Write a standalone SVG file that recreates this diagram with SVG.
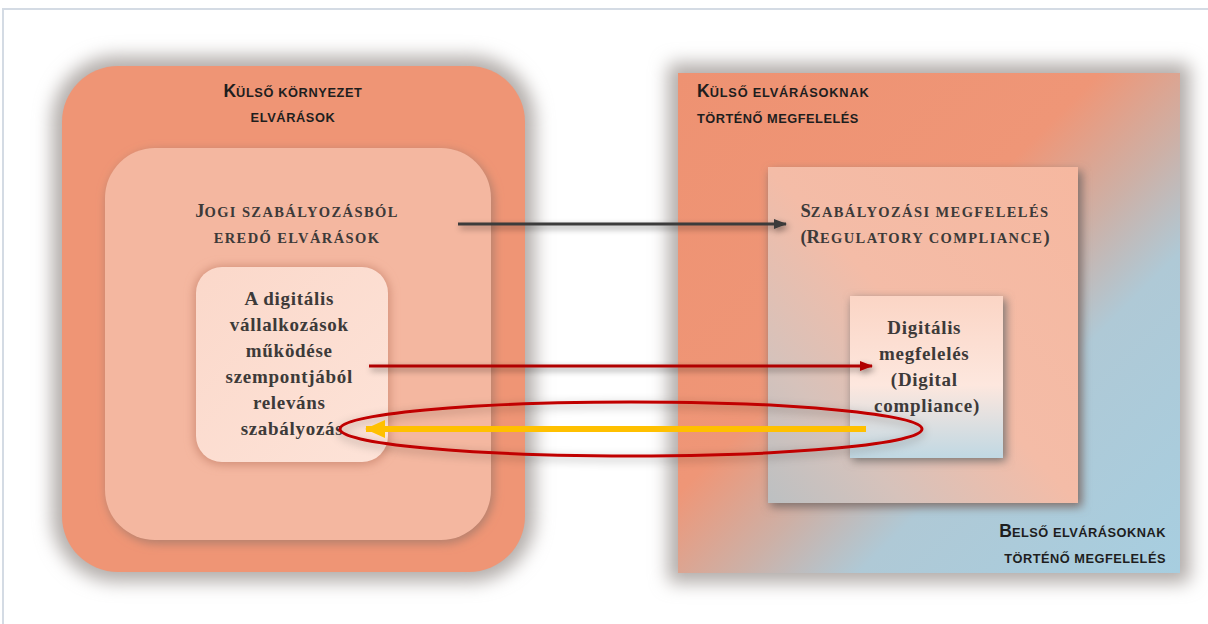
<svg xmlns="http://www.w3.org/2000/svg" width="1208" height="624" viewBox="0 0 1208 624">
<defs>
<style>
.sans{font-family:"Liberation Sans",Arial,sans-serif;fill:#1e1e1e;font-weight:bold}
.serif{font-family:"Liberation Serif","Times New Roman",serif;font-weight:bold;fill:#3d3a39}
.sc{font-size:14.5px;letter-spacing:1.4px}
.big{font-size:18.5px}
.body{font-size:19px;letter-spacing:0.7px}
.ssc{font-size:12.8px;letter-spacing:0.6px}
.sbig{font-size:17.5px}
</style>
<filter id="halo" x="-20%" y="-20%" width="140%" height="140%"><feGaussianBlur stdDeviation="9"/></filter>
<filter id="soft" x="-20%" y="-20%" width="140%" height="140%"><feGaussianBlur stdDeviation="5"/></filter>
<filter id="ash" filterUnits="userSpaceOnUse" x="0" y="0" width="1208" height="624"><feDropShadow dx="2" dy="3" stdDeviation="3" flood-color="#000" flood-opacity="0.45"/></filter>
<filter id="esh" filterUnits="userSpaceOnUse" x="0" y="0" width="1208" height="624"><feDropShadow dx="0" dy="3" stdDeviation="5" flood-color="#000" flood-opacity="0.35"/></filter>
<linearGradient id="gOuterR" x1="0" y1="0" x2="1" y2="1">
<stop offset="0" stop-color="#ee9272"/>
<stop offset="0.42" stop-color="#ef9677"/>
<stop offset="0.56" stop-color="#cdb0a6"/>
<stop offset="0.68" stop-color="#afc9d6"/>
<stop offset="1" stop-color="#a7cee0"/>
</linearGradient>
<linearGradient id="gMid" x1="1" y1="0" x2="0" y2="1">
<stop offset="0" stop-color="#f6b8a0"/>
<stop offset="0.5" stop-color="#f4bca7"/>
<stop offset="0.78" stop-color="#d6c2bb"/>
<stop offset="1" stop-color="#bcc0c2"/>
</linearGradient>
<linearGradient id="gIn" x1="0" y1="0" x2="0" y2="1">
<stop offset="0" stop-color="#fbd5c5"/>
<stop offset="0.55" stop-color="#fde7de"/>
<stop offset="1" stop-color="#c0d8e3"/>
</linearGradient>
<linearGradient id="gInner" x1="0" y1="0" x2="1" y2="1">
<stop offset="0" stop-color="#fbd8ca"/>
<stop offset="1" stop-color="#fde3d8"/>
</linearGradient>
<marker id="mDark" markerUnits="userSpaceOnUse" markerWidth="13" markerHeight="10" refX="12" refY="5" orient="auto"><path d="M0,0 L13,5 L0,10 z" fill="#3a3a3a"/></marker>
<marker id="mRed" markerUnits="userSpaceOnUse" markerWidth="13" markerHeight="10" refX="12" refY="5" orient="auto"><path d="M0,0 L13,5 L0,10 z" fill="#b00000"/></marker>
<marker id="mYel" markerUnits="userSpaceOnUse" markerWidth="20" markerHeight="18" refX="19" refY="9" orient="auto"><path d="M0,0 L20,9 L0,18 z" fill="#ffc000"/></marker>
</defs>

<rect x="3" y="9" width="1215" height="625" fill="none" stroke="#d4dbe4" stroke-width="2"/>

<g id="node-kulso-kornyezet">
<rect x="52" y="56" width="483" height="526" rx="65" fill="#b3adaa" filter="url(#halo)"/>
<rect x="62" y="66" width="463" height="506" rx="56" fill="#ef9575"/>
<text class="sans" text-anchor="middle"><tspan x="293" y="97"><tspan class="sbig">K</tspan><tspan class="ssc">ÜLSŐ KÖRNYEZET</tspan></tspan><tspan class="ssc" x="293" y="122">ELVÁRÁSOK</tspan></text>
</g>

<g id="node-jogi">
<rect x="106" y="150" width="388" height="394" rx="52" fill="#b5806d" filter="url(#soft)"/>
<rect x="105" y="148" width="386" height="392" rx="50" fill="#f4b7a0"/>
<text class="serif" text-anchor="middle"><tspan x="297" y="217"><tspan class="big">J</tspan><tspan class="sc">OGI SZABÁLYOZÁSBÓL</tspan></tspan><tspan class="sc" x="297" y="243">EREDŐ ELVÁRÁSOK</tspan></text>
</g>

<g id="node-digitalis-szabalyozas">
<rect x="194" y="266" width="196" height="199" rx="28" fill="#d18f78" filter="url(#soft)"/>
<rect x="196" y="267" width="192" height="195" rx="26" fill="url(#gInner)"/>
<text class="serif body" text-anchor="middle">
<tspan x="292" y="305">A digitális</tspan>
<tspan x="292" y="331">vállalkozások</tspan>
<tspan x="292" y="357">működése</tspan>
<tspan x="292" y="383">szempontjából</tspan>
<tspan x="292" y="409">releváns</tspan>
<tspan x="292" y="435">szabályozás</tspan>
</text>
</g>

<g id="node-kulso-megfeleles">
<rect x="668" y="63" width="522" height="520" rx="6" fill="#b3adaa" filter="url(#halo)"/>
<rect x="678" y="73" width="502" height="500" fill="url(#gOuterR)"/>
<text class="sans"><tspan x="697" y="97"><tspan class="sbig">K</tspan><tspan class="ssc" style="letter-spacing:0.8px">ÜLSŐ ELVÁRÁSOKNAK</tspan></tspan><tspan class="ssc" style="letter-spacing:0.5px" x="697" y="123">TÖRTÉNŐ MEGFELELÉS</tspan></text>
</g>

<g id="node-belso-megfeleles">
<text class="sans" text-anchor="end"><tspan x="1166" y="537"><tspan class="sbig">B</tspan><tspan class="ssc" style="letter-spacing:0.5px">ELSŐ ELVÁRÁSOKNAK</tspan></tspan><tspan class="ssc" style="letter-spacing:0.5px" x="1166" y="563">TÖRTÉNŐ MEGFELELÉS</tspan></text>
</g>

<g id="node-szabalyozasi">
<rect x="770" y="171" width="312" height="336" fill="#7f706c" filter="url(#soft)"/>
<rect x="768" y="167" width="310" height="336" fill="url(#gMid)"/>
<text class="serif" text-anchor="middle"><tspan x="925" y="217"><tspan class="big">S</tspan><tspan class="sc">ZABÁLYOZÁSI MEGFELELÉS</tspan></tspan><tspan x="925" y="243"><tspan class="big">(R</tspan><tspan class="sc">EGULATORY COMPLIANCE</tspan><tspan class="big">)</tspan></tspan></text>
</g>

<g id="node-digitalis-megfeleles">
<rect x="852" y="299" width="154" height="162" fill="#7a7472" filter="url(#soft)"/>
<rect x="850" y="296" width="153" height="162" fill="url(#gIn)"/>
<text class="serif body" text-anchor="middle">
<tspan x="927" y="334">Digitális</tspan>
<tspan x="927" y="360">megfelelés</tspan>
<tspan x="927" y="386">(Digital</tspan>
<tspan x="927" y="412">compliance)</tspan>
</text>
</g>

<g id="connectors">
<line x1="458" y1="224" x2="786" y2="224" stroke="#3a3a3a" stroke-width="3" marker-end="url(#mDark)" filter="url(#ash)"/>
<line x1="369" y1="366" x2="872" y2="366" stroke="#b00000" stroke-width="3" marker-end="url(#mRed)" filter="url(#ash)"/>
<ellipse cx="631" cy="429" rx="291" ry="27" fill="none" stroke="#c00000" stroke-width="3" filter="url(#esh)"/>
<line x1="866" y1="429" x2="366" y2="429" stroke="#ffc000" stroke-width="6" marker-end="url(#mYel)"/>
</g>
</svg>
